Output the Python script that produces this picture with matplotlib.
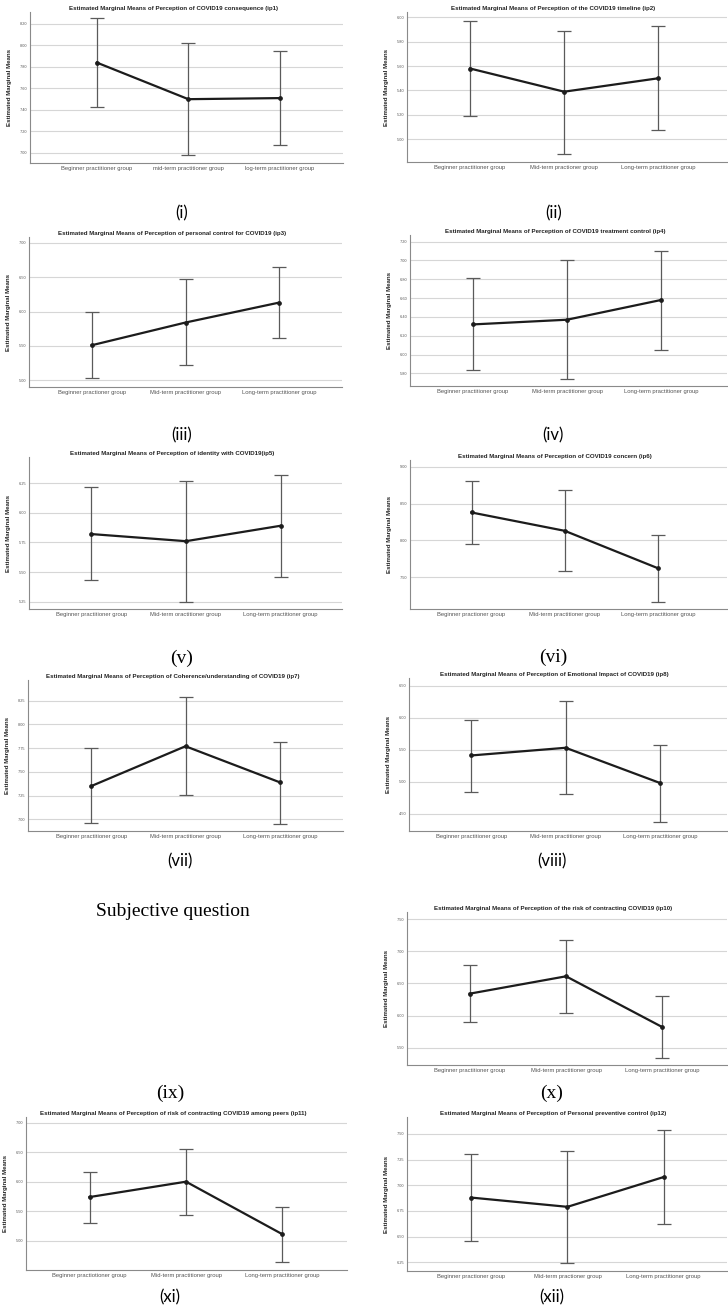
import numpy as np
import matplotlib.pyplot as plt
from matplotlib.ticker import MultipleLocator, FormatStrFormatter

W, H = 728, 1305

# estimated marginal means and 95% CI
ip1_mean = [7.84, 7.50, 7.51]
ip1_low = [7.43, 6.98, 7.07]
ip1_high = [8.25, 8.02, 7.95]

ip2_mean = [5.58, 5.39, 5.50]
ip2_low = [5.19, 4.88, 5.08]
ip2_high = [5.97, 5.89, 5.93]

ip3_mean = [5.51, 5.84, 6.13]
ip3_low = [5.03, 5.22, 5.61]
ip3_high = [6.00, 6.47, 6.65]

ip4_mean = [6.32, 6.37, 6.58]
ip4_low = [5.84, 5.74, 6.05]
ip4_high = [6.81, 7.00, 7.10]

ip5_mean = [5.82, 5.76, 5.89]
ip5_low = [5.43, 5.25, 5.46]
ip5_high = [6.22, 6.27, 6.32]

ip6_mean = [8.38, 8.13, 7.62]
ip6_low = [7.95, 7.58, 7.16]
ip6_high = [8.81, 8.68, 8.08]

ip7_mean = [7.35, 7.77, 7.39]
ip7_low = [6.96, 7.26, 6.95]
ip7_high = [7.75, 8.29, 7.81]

ip8_mean = [5.41, 5.53, 4.98]
ip8_low = [4.84, 4.81, 4.37]
ip8_high = [5.96, 6.26, 5.58]

ip10_mean = [6.34, 6.61, 5.82]
ip10_low = [5.90, 6.04, 5.34]
ip10_high = [6.78, 7.18, 6.31]

ip11_mean = [5.74, 6.00, 5.11]
ip11_low = [5.30, 5.44, 4.64]
ip11_high = [6.16, 6.56, 5.57]

ip12_mean = [6.88, 6.79, 7.08]
ip12_low = [6.46, 6.24, 6.62]
ip12_high = [7.30, 7.33, 7.54]

titles = [
    "Estimated Marginal Means of Perception of COVID19 consequence (ip1)",
    "Estimated Marginal Means of Perception of the COVID19 timeline (ip2)",
    "Estimated Marginal Means of Perception of personal control for COVID19 (ip3)",
    "Estimated Marginal Means of Perception of COVID19 treatment control (ip4)",
    "Estimated Marginal Means of Perception of identity with COVID19(ip5)",
    "Estimated Marginal Means of Perception of COVID19 concern (ip6)",
    "Estimated Marginal Means of Perception of Coherence/understanding of COVID19 (ip7)",
    "Estimated Marginal Means of Perception of Emotional Impact of COVID19 (ip8)",
    "Estimated Marginal Means of Perception of the risk of contracting COVID19 (ip10)",
    "Estimated Marginal Means of Perception of risk of contracting COVID19 among peers (ip11)",
    "Estimated Marginal Means of Perception of Personal preventive control (ip12)",
]

groups = [
    ["Beginner practitioner group", "mid-term practitioner group", "log-term practitioner group"],
    ["Beginner practitioner group", "Mid-term practioner group", "Long-term practitioner group"],
    ["Beginner practioner group", "Mid-term practitioner group", "Long-term practitioner group"],
    ["Beginner practitioner group", "Mid-term practitioner group", "Long-term practitioner group"],
    ["Beginner practitioner group", "Mid-term oractitioner group", "Long-term practitioner group"],
    ["Beginner practioner group", "Mid-term practitioner group", "Long-term practitioner group"],
    ["Beginner practitioner group", "Mid-term practitioner group", "Long-term practitioner group"],
    ["Beginner practitioner group", "Mid-term practitioner group", "Long-term practitioner group"],
    ["Beginner practitioner group", "Mid-term practitioner group", "Long-term practitioner group"],
    ["Beginner practiotioner group", "Mid-term practitioner group", "Long-term practitioner group"],
    ["Beginner practioner group", "Mid-term practioner group", "Long-term practitioner group"],
]

means = [ip1_mean, ip2_mean, ip3_mean, ip4_mean, ip5_mean, ip6_mean,
         ip7_mean, ip8_mean, ip10_mean, ip11_mean, ip12_mean]
lows = [ip1_low, ip2_low, ip3_low, ip4_low, ip5_low, ip6_low,
        ip7_low, ip8_low, ip10_low, ip11_low, ip12_low]
highs = [ip1_high, ip2_high, ip3_high, ip4_high, ip5_high, ip6_high,
         ip7_high, ip8_high, ip10_high, ip11_high, ip12_high]

# layout: axes box in pixels (left, top, right, bottom), xlim, ylim, tick step
boxes = [(30, 12, 343, 163), (407, 12, 727, 162),
         (29, 237, 342, 387), (410, 235, 727, 386),
         (29, 457, 342, 609), (410, 460, 727, 609),
         (28, 680, 343, 831), (409, 678, 727, 831),
         (407, 912, 727, 1065),
         (26, 1117, 347, 1270), (407, 1117, 727, 1271)]
xlims = [(-0.73, 2.69), (-0.67, 2.73), (-0.67, 2.67), (-0.67, 2.70),
         (-0.66, 2.65), (-0.66, 2.74), (-0.67, 2.67), (-0.66, 2.71),
         (-0.65, 2.67), (-0.66, 2.67), (-0.67, 2.66)]
ylims = [(6.907, 8.31), (4.814, 6.043), (4.903, 7.083), (5.665, 7.271),
         (5.188, 6.47), (7.065, 9.095), (6.877, 8.468), (4.23, 6.62),
         (5.232, 7.609), (4.505, 7.095), (6.165, 7.665)]
steps = [0.2, 0.2, 0.5, 0.2, 0.25, 0.5, 0.25, 0.5, 0.5, 0.5, 0.25]

# panel captions: text, x, y (pixels), serif?
captions = [("(i)", 182, 213, False), ("(ii)", 554, 213, False),
            ("(iii)", 182, 435, False), ("(iv)", 553, 435, False),
            ("(v)", 182, 658, True), ("(vi)", 553, 657, True),
            ("(vii)", 180, 861, False), ("(viii)", 552, 861, False),
            ("Subjective question", 173, 911, True),
            ("(ix)", 170, 1093, True), ("(x)", 552, 1093, True),
            ("(xi)", 170, 1297, False), ("(xii)", 552, 1297, False)]

plt.rcParams['font.family'] = ['Liberation Sans', 'DejaVu Sans']

fig = plt.figure(figsize=(W / 100, H / 100), dpi=100)

for i in range(len(titles)):
    l, t, r, b = boxes[i]
    ax = fig.add_axes([l / W, 1 - b / H, (r - l) / W, (b - t) / H])
    x = np.arange(3)
    m = np.array(means[i])
    lo = np.array(lows[i])
    hi = np.array(highs[i])
    ax.errorbar(x, m, yerr=[m - lo, hi - m], fmt='none', ecolor='#5a5a5a',
                elinewidth=0.9, capsize=4.8, capthick=0.9, zorder=3)
    ax.plot(x, m, color='#1c1c1c', lw=1.6, marker='o', ms=2.4, zorder=4)
    ax.set_xlim(*xlims[i])
    ax.set_ylim(*ylims[i])
    ax.yaxis.set_major_locator(MultipleLocator(steps[i]))
    ax.yaxis.set_major_formatter(FormatStrFormatter('%.2f'))
    ax.set_xticks(x)
    ax.set_xticklabels(groups[i])
    ax.tick_params(axis='x', length=0, pad=2.5, labelsize=4.2, labelcolor='#555555')
    ax.tick_params(axis='y', length=0, pad=2, labelsize=2.8, labelcolor='#555555')
    ax.yaxis.grid(True, color='#d6d6d6', lw=0.8)
    ax.set_axisbelow(True)
    for s in ['top', 'right']:
        ax.spines[s].set_visible(False)
    for s in ['left', 'bottom']:
        ax.spines[s].set_color('#8a8a8a')
        ax.spines[s].set_linewidth(0.8)
    ax.set_ylabel("Estimated Marginal Means", fontsize=4.4, fontweight='bold', color='#222222')
    ax.yaxis.set_label_coords(-18 / (r - l), 0.5)
    ax.set_title(titles[i], fontsize=4.4, fontweight='bold', color='#222222', x=0.458, pad=1.5)

for text, cx, cy, serif in captions:
    if serif:
        fig.text(cx / W, 1 - cy / H, text, fontsize=14, ha='center', va='center',
                 family=['Liberation Serif', 'DejaVu Serif'])
    else:
        fig.text(cx / W, 1 - cy / H, text, fontsize=12, ha='center', va='center',
                 family=['Lato', 'DejaVu Sans'])

fig.savefig('out.png', dpi=100, facecolor='white')
